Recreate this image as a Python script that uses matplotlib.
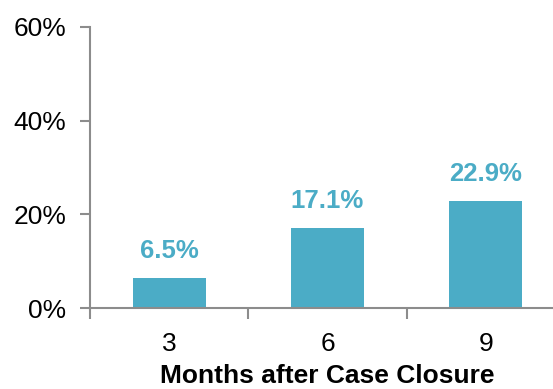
import matplotlib
matplotlib.use('Agg')
import matplotlib.pyplot as plt
from matplotlib.ticker import FixedLocator

plt.rcParams['font.family'] = ['Liberation Sans', 'DejaVu Sans']

months = ['3', '6', '9']
rates = [6.5, 17.1, 22.9]
yticks = [0, 20, 40, 60]

bar_color = '#4BACC6'
axis_color = '#8C8C8C'

fig = plt.figure(figsize=(5.53, 3.89), dpi=100)
ax = fig.add_axes([90 / 553, 81 / 389, 475 / 553, 281 / 389])

x = range(len(months))
ax.bar(x, rates, width=0.46, color=bar_color)
for xi, v in zip(x, rates):
    ax.text(xi, v + 3.1, f'{v:.1f}%', ha='center', va='bottom',
            fontsize=18.5, fontweight='bold', color=bar_color)

ax.set_xlim(-0.5, len(months) - 0.5)
ax.set_ylim(0, 60)
ax.set_yticks(yticks)
ax.set_yticklabels([f'{t}%' for t in yticks], fontsize=19)

# labels at the bar centres, tick marks between categories
ax.set_xticks(list(x))
ax.set_xticklabels(months, fontsize=19)
ax.xaxis.set_minor_locator(FixedLocator([-0.5, 0.5, 1.5, 2.5]))
ax.tick_params(axis='x', which='major', length=0, pad=17)
ax.tick_params(axis='x', which='minor', length=8, width=1.5, color=axis_color, direction='out')
ax.tick_params(axis='y', length=7, width=1.5, color=axis_color, pad=10)

ax.set_xlabel('Months after Case Closure', fontsize=19, fontweight='bold', labelpad=6)

for side in ['top', 'right']:
    ax.spines[side].set_visible(False)
for side in ['left', 'bottom']:
    ax.spines[side].set_color(axis_color)
    ax.spines[side].set_linewidth(1.5)

fig.savefig('out.png', dpi=100)
